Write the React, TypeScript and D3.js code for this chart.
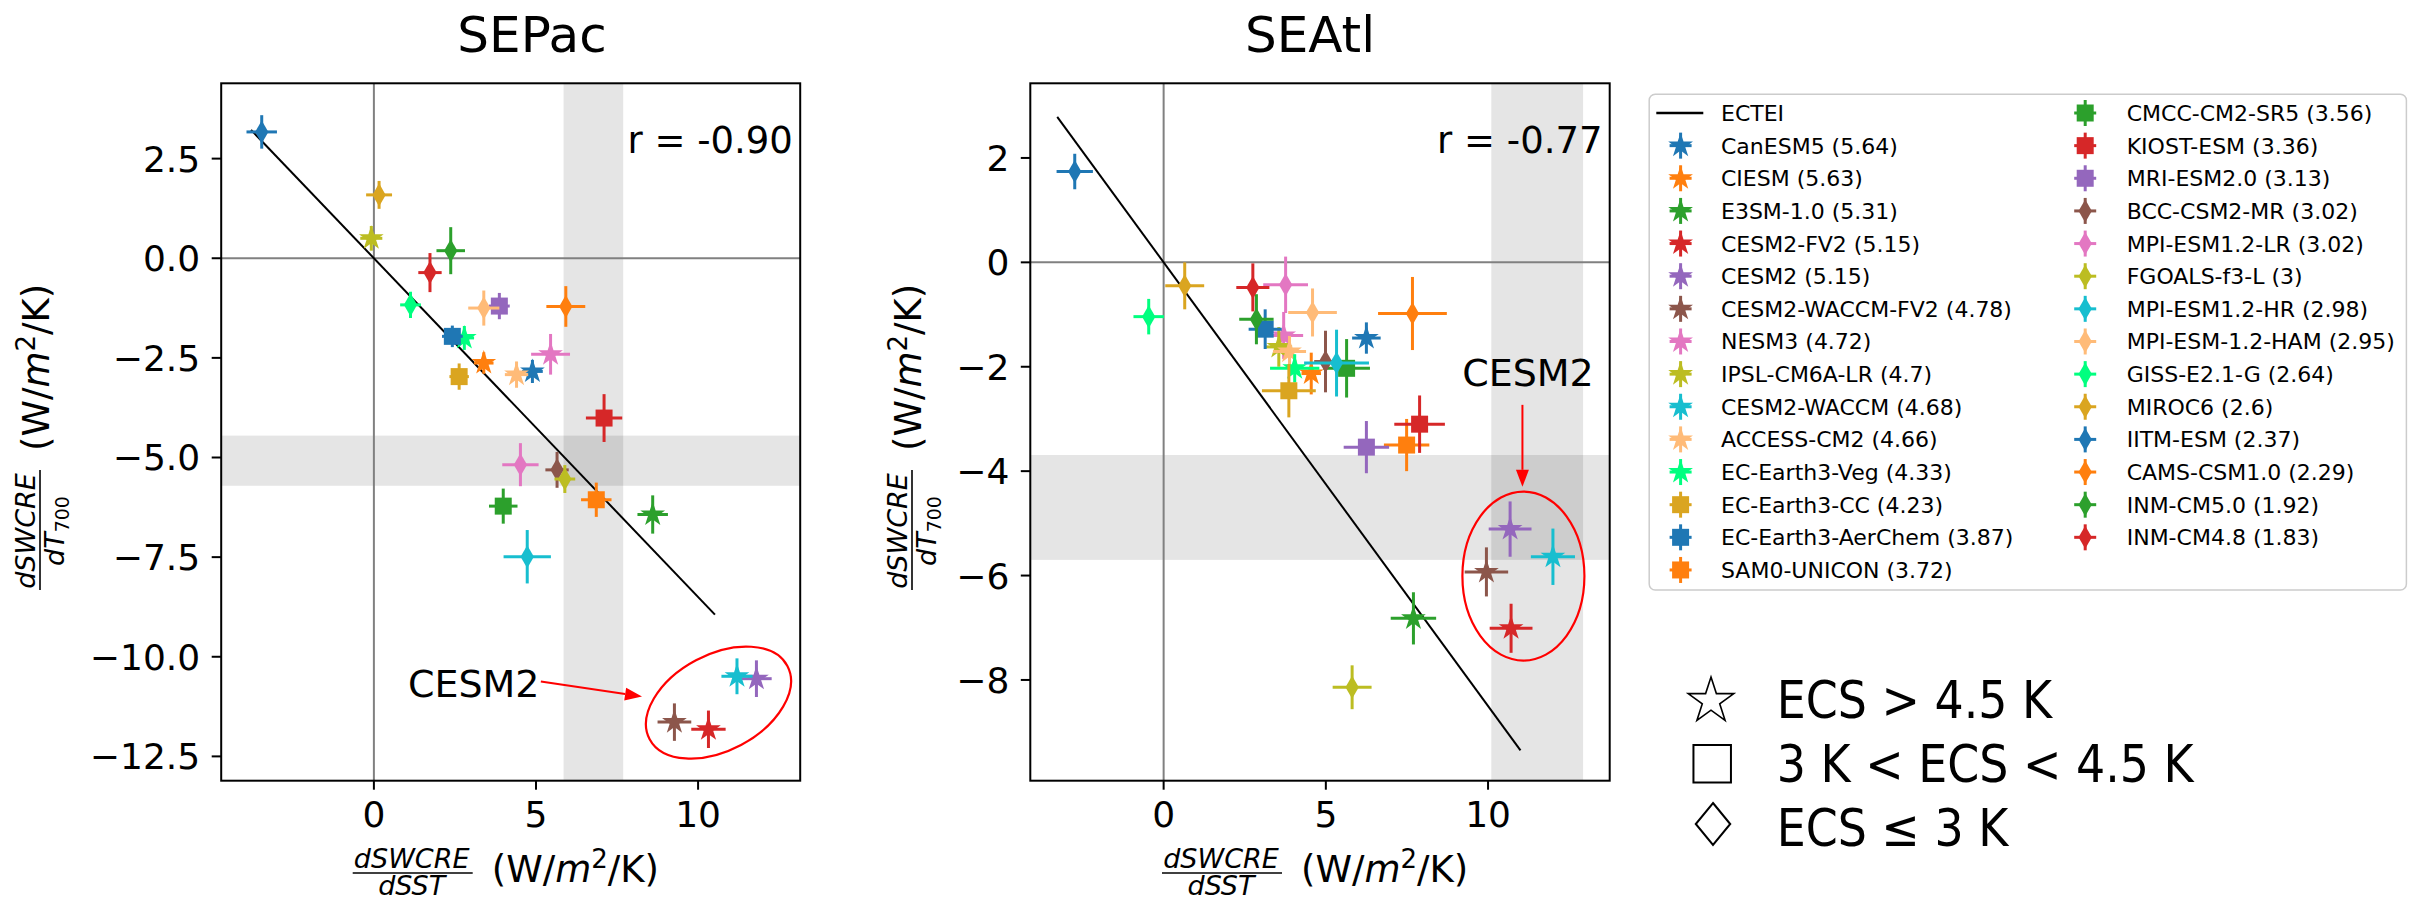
import * as d3 from "d3";

const W = 2423;
const H = 902;
const TOP = 83.3;
const BOTTOM = 780.7;
const FONT = "DejaVu Sans, sans-serif";

// models, in legend order, with ECS (K)
const models = [
  "CanESM5", "CIESM", "E3SM-1.0", "CESM2-FV2", "CESM2", "CESM2-WACCM-FV2", "NESM3",
  "IPSL-CM6A-LR", "CESM2-WACCM", "ACCESS-CM2", "EC-Earth3-Veg", "EC-Earth3-CC",
  "EC-Earth3-AerChem", "SAM0-UNICON", "CMCC-CM2-SR5", "KIOST-ESM", "MRI-ESM2.0",
  "BCC-CSM2-MR", "MPI-ESM1.2-LR", "FGOALS-f3-L", "MPI-ESM1.2-HR", "MPI-ESM-1.2-HAM",
  "GISS-E2.1-G", "MIROC6", "IITM-ESM", "CAMS-CSM1.0", "INM-CM5.0", "INM-CM4.8",
];
const ecsValues = [
  5.64, 5.63, 5.31, 5.15, 5.15, 4.78, 4.72, 4.7, 4.68, 4.66, 4.33, 4.23, 3.87, 3.72,
  3.56, 3.36, 3.13, 3.02, 3.02, 3, 2.98, 2.95, 2.64, 2.6, 2.37, 2.29, 1.92, 1.83,
];
const markerKinds = [
  "star", "star", "star", "star", "star", "star", "star", "star", "star", "star", "star",
  "square", "square", "square", "square", "square", "square",
  "diamond", "diamond", "diamond", "diamond", "diamond", "diamond", "diamond", "diamond",
  "diamond", "diamond", "diamond",
];
const palette = [
  "#1f77b4", "#ff7f0e", "#2ca02c", "#d62728", "#9467bd", "#8c564b", "#e377c2",
  "#bcbd22", "#17becf", "#ffbb78", "#00ff7f", "#daa520",
];

// SEPac: dSWCRE/dSST, dSWCRE/dT700 and their errors
const sepacX = [4.89, 3.39, 8.6, 10.32, 11.8, 9.27, 5.45, -0.08, 11.2, 4.4, 2.79, 2.63, 2.42, 6.86, 3.99, 7.1, 3.87, 5.65, 4.52, 5.89, 4.73, 3.39, 1.13, 0.16, -3.46, 5.92, 2.37, 1.73];
const sepacY = [-2.84, -2.63, -6.43, -11.82, -10.55, -11.64, -2.41, 0.5, -10.49, -2.92, -2.0, -2.97, -1.96, -6.06, -6.22, -4.01, -1.2, -5.31, -5.18, -5.54, -7.49, -1.25, -1.17, 1.59, 3.17, -1.21, 0.19, -0.36];
const sepacXErr = [0.32, 0.3, 0.47, 0.53, 0.47, 0.52, 0.6, 0.34, 0.48, 0.36, 0.3, 0.3, 0.32, 0.47, 0.44, 0.56, 0.32, 0.36, 0.56, 0.32, 0.73, 0.48, 0.32, 0.4, 0.47, 0.6, 0.44, 0.36];
const sepacYErr = [0.29, 0.27, 0.48, 0.47, 0.46, 0.47, 0.51, 0.31, 0.45, 0.33, 0.3, 0.33, 0.27, 0.43, 0.44, 0.6, 0.33, 0.45, 0.54, 0.35, 0.67, 0.44, 0.33, 0.35, 0.42, 0.51, 0.59, 0.49];

// SEAtl
const seatlX = [6.25, 4.55, 7.7, 10.71, 10.68, 9.95, 3.7, 3.55, 12.0, 3.88, 4.04, 3.86, 3.13, 7.49, 5.64, 7.89, 6.25, 4.99, 3.76, 5.81, 5.33, 4.59, -0.46, 0.65, -2.74, 7.67, 2.86, 2.75];
const seatlY = [-1.45, -2.13, -6.82, -7.01, -5.11, -5.93, -1.4, -1.62, -5.64, -1.71, -2.03, -2.46, -1.28, -3.5, -2.03, -3.1, -3.54, -1.9, -0.43, -8.14, -1.93, -0.96, -1.04, -0.45, 1.74, -0.98, -1.09, -0.48];
const seatlXErr = [0.44, 0.3, 0.7, 0.66, 0.66, 0.67, 0.6, 0.41, 0.68, 0.51, 0.76, 0.83, 0.51, 0.7, 0.72, 0.78, 0.7, 0.35, 0.69, 0.6, 1.0, 0.75, 0.47, 0.6, 0.56, 1.06, 0.53, 0.51];
const seatlYErr = [0.3, 0.4, 0.5, 0.47, 0.53, 0.47, 0.45, 0.38, 0.54, 0.3, 0.27, 0.51, 0.38, 0.5, 0.56, 0.55, 0.5, 0.59, 0.54, 0.42, 0.64, 0.46, 0.34, 0.45, 0.34, 0.7, 0.48, 0.46];

const xTicks = [0, 5, 10];
const sepacYTicks = [2.5, 0, -2.5, -5, -7.5, -10, -12.5];
const seatlYTicks = [2, 0, -2, -4, -6, -8];
const ecteiSlope = -0.85;
const ecsLabels = ["ECS > 4.5 K", "3 K < ECS < 4.5 K", "ECS \u2264 3 K"];

const panels = [
  {
    title: "SEPac", titleX: 532, left: 221.2, right: 800.2,
    xDomain: [-4.71, 13.15], yDomain: [-13.11, 4.39], yTicks: sepacYTicks, yFmt: ".1f",
    xs: sepacX, ys: sepacY, xe: sepacXErr, ye: sepacYErr,
    xBand: [5.85, 7.69], yBand: [-5.71, -4.45], lineX: [-3.79, 10.52],
    r: "r = -0.90", rAt: [7.82, 2.63], barX: 40,
  },
  {
    title: "SEAtl", titleX: 1310, left: 1030.3, right: 1609.7,
    xDomain: [-4.11, 13.75], yDomain: [-9.93, 3.43], yTicks: seatlYTicks, yFmt: "d",
    xs: seatlX, ys: seatlY, xe: seatlXErr, ye: seatlYErr,
    xBand: [10.1, 12.93], yBand: [-5.7, -3.69], lineX: [-3.28, 11.0],
    r: "r = -0.77", rAt: [8.43, 2.09], barX: 912,
  },
];

const color = d3.scaleOrdinal<string, string>().domain(models).range(palette);
const symbols: Record<string, string> = {
  star: d3.symbol(d3.symbolStar, 190)() ?? "",
  square: d3.symbol(d3.symbolSquare, 289)() ?? "",
  diamond: d3.symbol(d3.symbolDiamond, 153)() ?? "",
};

// fraction + units, drawn with the fraction bar at local y = 0
const UnitLabel = ({ yAxis }: { yAxis: boolean }) => (
  <g>
    <text x={-99} y={-5} textAnchor="middle" fontStyle="italic" fontSize={27}>dSWCRE</text>
    <line x1={-158} x2={-38} y1={0} y2={0} stroke="#000" strokeWidth={1.6} />
    <text x={-99} y={yAxis ? 24 : 22} textAnchor="middle" fontStyle="italic" fontSize={27}>
      {yAxis ? (
        <>
          dT<tspan fontStyle="normal" fontSize={19} dy={5}>700</tspan>
        </>
      ) : (
        "dSST"
      )}
    </text>
    <text x={-19} y={9.3} fontSize={37}>
      (W/<tspan fontStyle="italic">m</tspan>
      <tspan fontSize={26} dy={-14}>2</tspan>
      <tspan dy={14}>/K)</tspan>
    </text>
  </g>
);

const Arrow = ({ x1, y1, x2, y2 }: { x1: number; y1: number; x2: number; y2: number }) => {
  const a = Math.atan2(y2 - y1, x2 - x1);
  const len = 17;
  const hw = 6.5;
  const bx = x2 - len * Math.cos(a);
  const by = y2 - len * Math.sin(a);
  const px = -Math.sin(a) * hw;
  const py = Math.cos(a) * hw;
  return (
    <g>
      <line x1={x1} y1={y1} x2={bx} y2={by} stroke="#ff0000" strokeWidth={2} />
      <path d={`M${x2},${y2}L${bx + px},${by + py}L${bx - px},${by - py}Z`} fill="#ff0000" />
    </g>
  );
};

const Panel = ({ p, idx }: { p: (typeof panels)[number]; idx: number }) => {
  const x = d3.scaleLinear().domain(p.xDomain).range([p.left, p.right]);
  const y = d3.scaleLinear().domain(p.yDomain).range([BOTTOM, TOP]);
  const fmt = d3.format(p.yFmt);
  const cx = (p.left + p.right) / 2;
  const cy = (TOP + BOTTOM) / 2;
  return (
    <g>
      <rect x={x(p.xBand[0])} y={TOP} width={x(p.xBand[1]) - x(p.xBand[0])} height={BOTTOM - TOP} fill="#000" fillOpacity={0.1} />
      <rect x={p.left} y={y(p.yBand[1])} width={p.right - p.left} height={y(p.yBand[0]) - y(p.yBand[1])} fill="#000" fillOpacity={0.1} />
      <line x1={x(0)} x2={x(0)} y1={TOP} y2={BOTTOM} stroke="#808080" strokeWidth={2} />
      <line x1={p.left} x2={p.right} y1={y(0)} y2={y(0)} stroke="#808080" strokeWidth={2} />
      <line
        x1={x(p.lineX[0])} y1={y(ecteiSlope * p.lineX[0])}
        x2={x(p.lineX[1])} y2={y(ecteiSlope * p.lineX[1])}
        stroke="#000" strokeWidth={2}
      />
      {models.map((m, i) => {
        const px = x(p.xs[i]);
        const py = y(p.ys[i]);
        const c = color(m);
        return (
          <g key={m}>
            <line x1={x(p.xs[i] - p.xe[i])} x2={x(p.xs[i] + p.xe[i])} y1={py} y2={py} stroke={c} strokeWidth={3} />
            <line x1={px} x2={px} y1={y(p.ys[i] - p.ye[i])} y2={y(p.ys[i] + p.ye[i])} stroke={c} strokeWidth={3} />
            <path d={symbols[markerKinds[i]]} transform={`translate(${px},${py})`} fill={c} />
          </g>
        );
      })}
      <rect x={p.left} y={TOP} width={p.right - p.left} height={BOTTOM - TOP} fill="none" stroke="#000" strokeWidth={2} />
      {xTicks.map((t) => (
        <g key={t}>
          <line x1={x(t)} x2={x(t)} y1={BOTTOM} y2={BOTTOM + 9} stroke="#000" strokeWidth={2} />
          <text x={x(t)} y={827} textAnchor="middle" fontSize={36}>{t}</text>
        </g>
      ))}
      {p.yTicks.map((t) => (
        <g key={t}>
          <line x1={p.left - 9.5} x2={p.left} y1={y(t)} y2={y(t)} stroke="#000" strokeWidth={2} />
          <text x={p.left - 21} y={y(t)} dy="0.36em" textAnchor="end" fontSize={36}>{fmt(t)}</text>
        </g>
      ))}
      <text x={p.titleX} y={51.7} textAnchor="middle" fontSize={50}>{p.title}</text>
      <text x={x(p.rAt[0])} y={y(p.rAt[1])} fontSize={37}>{p.r}</text>
      <g transform={`translate(${cx},873)`}>
        <UnitLabel yAxis={false} />
      </g>
      <g transform={`translate(${p.barX},${cy}) rotate(-90)`}>
        <UnitLabel yAxis={true} />
      </g>
      {idx === 0 ? (
        <g>
          <text x={x(1.05)} y={y(-11.0)} fontSize={38}>CESM2</text>
          <Arrow x1={x(5.15)} y1={y(-10.62)} x2={x(8.27)} y2={y(-11.0)} />
          <ellipse cx={0} cy={0} rx={78} ry={48} transform={`translate(${x(10.63)},${y(-11.15)}) rotate(-28)`} fill="none" stroke="#ff0000" strokeWidth={2.2} />
        </g>
      ) : (
        <g>
          <text x={x(11.23)} y={y(-2.36)} textAnchor="middle" fontSize={38}>CESM2</text>
          <Arrow x1={x(11.06)} y1={y(-2.73)} x2={x(11.06)} y2={y(-4.3)} />
          <ellipse cx={x(11.09)} cy={y(-6.01)} rx={61} ry={84.5} fill="none" stroke="#ff0000" strokeWidth={2.2} />
        </g>
      )}
    </g>
  );
};

const Legend = () => {
  const rowY = (k: number) => 113 + k * 32.64;
  const leftCol = models.slice(0, 14).map((m, i) => ({ m, i, k: i + 1, mx: 1680.6, tx: 1721 }));
  const rightCol = models.slice(14).map((m, j) => ({ m, i: j + 14, k: j, mx: 2085.2, tx: 2126.7 }));
  return (
    <g>
      <rect x={1649.2} y={94.3} width={757.2} height={495.7} rx={6} fill="#fff" stroke="#cccccc" strokeWidth={1.5} />
      <line x1={1656.3} x2={1703.3} y1={rowY(0)} y2={rowY(0)} stroke="#000" strokeWidth={2.5} />
      <text x={1721} y={rowY(0) + 8} fontSize={22}>ECTEI</text>
      {[...leftCol, ...rightCol].map(({ m, i, k, mx, tx }) => {
        const c = color(m);
        const ry = rowY(k);
        return (
          <g key={m}>
            <line x1={mx - 11} x2={mx + 11} y1={ry} y2={ry} stroke={c} strokeWidth={3} />
            <line x1={mx} x2={mx} y1={ry - 13} y2={ry + 13} stroke={c} strokeWidth={3} />
            <path d={symbols[markerKinds[i]]} transform={`translate(${mx},${ry})`} fill={c} />
            <text x={tx} y={ry + 8} fontSize={22}>{`${m} (${ecsValues[i]})`}</text>
          </g>
        );
      })}
    </g>
  );
};

const EcsKey = () => {
  const star = d3.symbol(d3.symbolStar, 646)() ?? "";
  const square = d3.symbol(d3.symbolSquare, 1406)() ?? "";
  const diamond = d3.symbol(d3.symbolDiamond, 510)() ?? "";
  const base = [718, 782.3, 845.7];
  return (
    <g>
      <path d={star} transform="translate(1711,701)" fill="#fff" stroke="#000" strokeWidth={1.6} />
      <path d={square} transform="translate(1712.2,763.7)" fill="#fff" stroke="#000" strokeWidth={2} />
      <path d={diamond} transform="translate(1713,824) scale(1.42,1)" fill="#fff" stroke="#000" strokeWidth={1.6} />
      {ecsLabels.map((s, i) => (
        <text key={s} transform={`translate(1776.7,${base[i]}) scale(0.9,1)`} fontSize={51}>{s}</text>
      ))}
    </g>
  );
};

export default function App() {
  return (
    <div style={{ position: "fixed", left: 0, top: 0, width: W, height: H, background: "#fff" }}>
      <svg width={W} height={H} viewBox={`0 0 ${W} ${H}`} style={{ fontFamily: FONT, display: "block" }}>
        <rect width={W} height={H} fill="#fff" />
        {panels.map((p, i) => (
          <Panel key={p.title} p={p} idx={i} />
        ))}
        <Legend />
        <EcsKey />
      </svg>
    </div>
  );
}
